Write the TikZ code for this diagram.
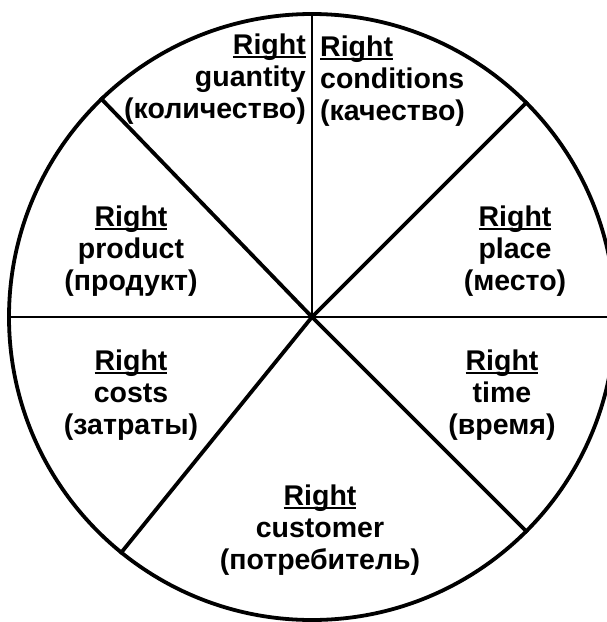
\documentclass[tikz,border=0pt]{standalone}
\usepackage{fontspec}
\setmainfont{Liberation Sans}
\newcommand\rightul{\setbox0\hbox{Right}\rlap{\rule[-3.8pt]{\wd0}{2.4pt}}\box0}
\begin{document}
\begin{tikzpicture}[x=1pt,y=-1pt,
  lbl/.style={inner sep=0pt, font=\fontsize{28.5}{32}\selectfont\bfseries},
  thickline/.style={line width=3.8pt},
  thinline/.style={line width=2.4pt}]
\useasboundingbox (0,0) rectangle (607,622);
\fill[white] (0,0) rectangle (607,622);
\begin{scope}
\clip (0,0) rectangle (607,622);
\coordinate (c) at (312,317);
\node[circle, draw, thickline, minimum size=606pt, inner sep=0pt] (wheel) at (c) {};
\draw[thinline] (c) -- (wheel.90);
\draw[thinline] (wheel.180) -- (wheel.0);
\draw[thickline] (c) -- (wheel.134.6);
\draw[thickline] (c) -- (wheel.45.5);
\draw[thickline] (c) -- (wheel.231);
\draw[thickline] (c) -- (wheel.-45.3);
\end{scope}
\node[lbl, align=right, anchor=east] (qty) at (306,79) {\rightul\\guantity\\(количество)};
\node[lbl, align=left, anchor=west] (cond) at (320,81) {\rightul\\conditions\\(качество)};
\node[lbl, align=center] (prod) at (131,251) {\rightul\\product\\(продукт)};
\node[lbl, align=center] (place) at (515,251) {\rightul\\place\\(место)};
\node[lbl, align=center] (costs) at (131,395) {\rightul\\costs\\(затраты)};
\node[lbl, align=center] (time) at (502,395) {\rightul\\time\\(время)};
\node[lbl, align=center] (cust) at (320,530) {\rightul\\customer\\(потребитель)};
\end{tikzpicture}
\end{document}
